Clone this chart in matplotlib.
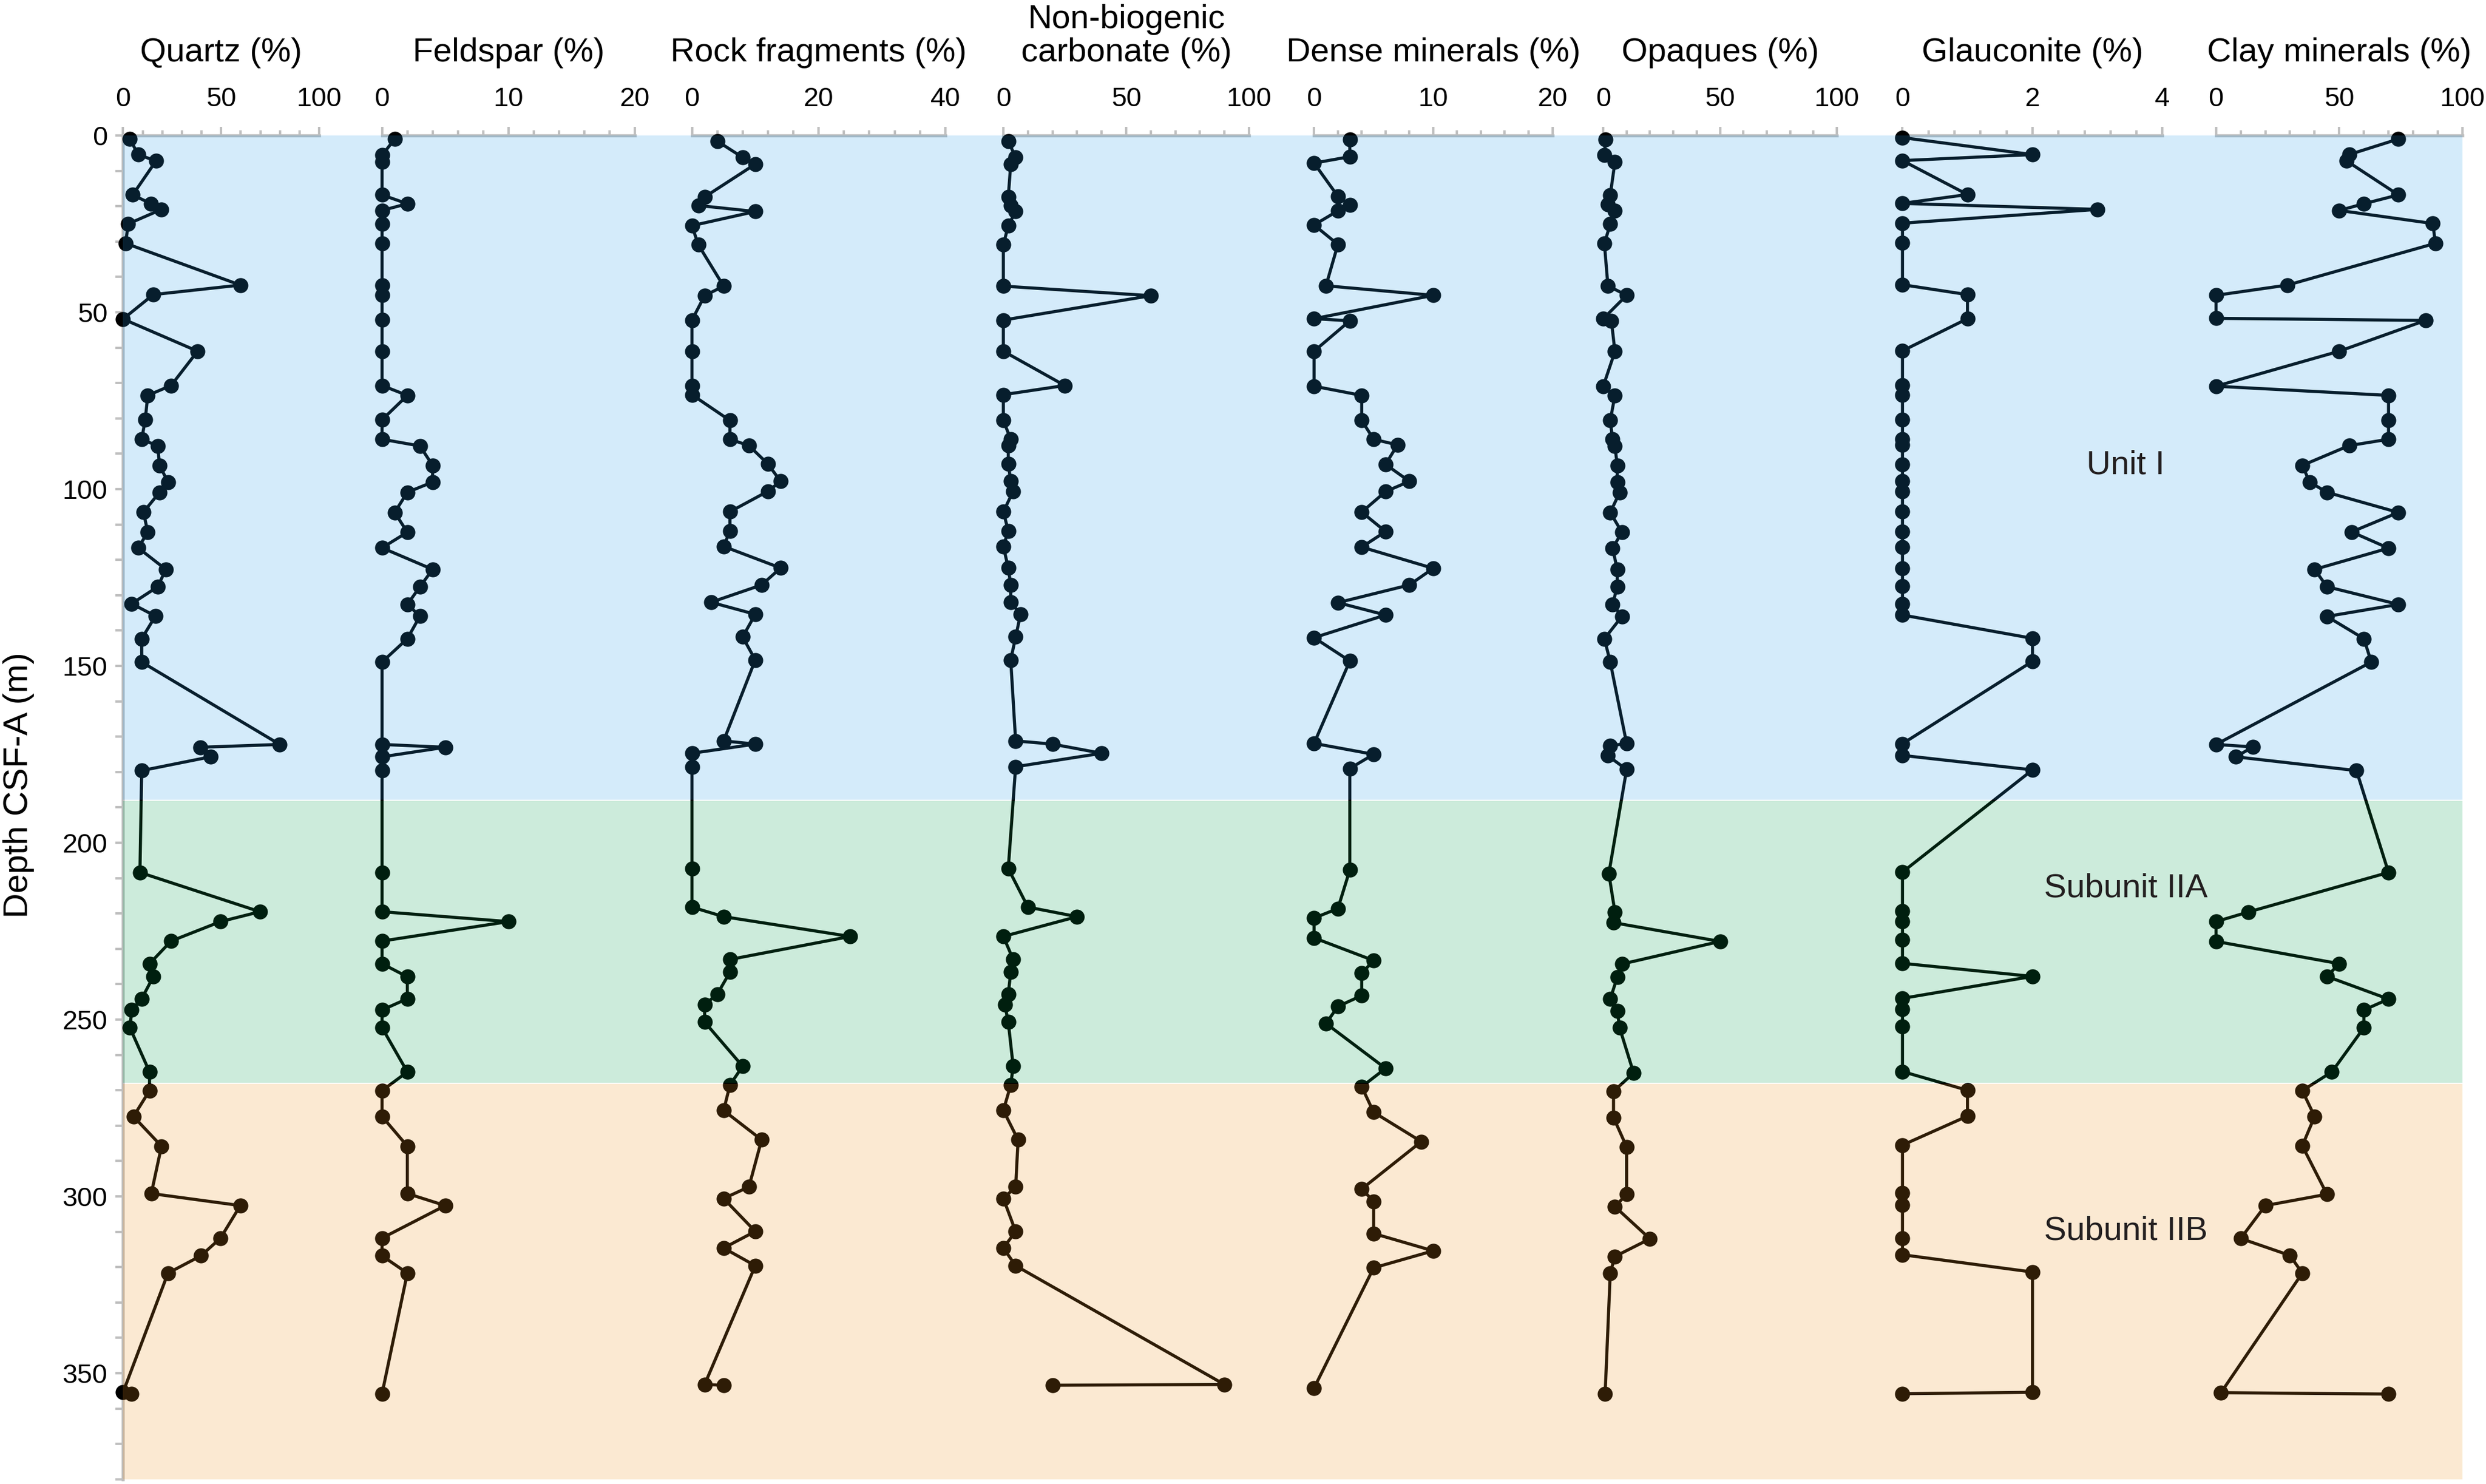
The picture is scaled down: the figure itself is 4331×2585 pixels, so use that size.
import numpy as np
import matplotlib
matplotlib.use("Agg")
import matplotlib.pyplot as plt
from matplotlib.ticker import MultipleLocator

plt.rcParams['font.family'] = ['Liberation Sans', 'DejaVu Sans']

# ---- data ----
quartz_depth = [1.0, 5.4, 7.2, 16.8, 19.3, 20.9, 25.0, 30.5, 42.3, 45.0, 51.9, 61.0, 70.7, 73.5,
                80.4, 85.9, 87.8, 93.3, 98.0, 100.9, 106.5, 112.2, 116.6, 122.7, 127.6, 132.4,
                135.9, 142.3, 148.9, 172.2, 173.0, 175.7, 179.6, 208.4, 219.5, 222.3, 227.8,
                234.2, 237.9, 244.1, 247.3, 252.3, 264.8, 270.1, 277.4, 285.8, 299.2, 302.6,
                311.8, 316.8, 321.7, 355.4, 355.8]
quartz = [3.5, 7.7, 16.8, 4.9, 14.3, 19.6, 2.6, 1.3, 59.8, 15.4, 0, 38.0, 24.5, 12.6, 11.3, 9.5,
          17.7, 18.6, 22.9, 18.6, 10.4, 12.6, 7.7, 21.8, 17.7, 4.4, 16.5, 9.5, 9.5, 79.9, 39.3,
          44.6, 9.5, 8.6, 69.8, 49.7, 24.5, 13.5, 15.4, 9.5, 4.4, 3.5, 13.5, 13.5, 5.3, 19.6,
          14.4, 59.8, 49.7, 39.7, 22.9, 0, 4.4]

feldspar_depth = [1.0, 5.6, 7.5, 16.8, 19.3, 21.2, 25.0, 30.5, 42.3, 45.2, 52.1, 61.0, 70.7, 73.5,
                  80.4, 85.9, 87.8, 93.3, 98.0, 100.9, 106.6, 112.2, 116.6, 122.7, 127.6, 132.6,
                  135.9, 142.3, 148.9, 172.2, 173.0, 175.7, 179.6, 208.4, 219.5, 222.3, 227.8,
                  234.2, 237.9, 244.1, 247.3, 252.3, 264.8, 270.1, 277.4, 285.8, 299.2, 302.6,
                  311.8, 316.8, 321.7, 355.8]
feldspar = [1, 0, 0, 0, 2, 0, 0, 0, 0, 0, 0, 0, 0, 2, 0, 0, 3, 4, 4, 2, 1, 2, 0, 4, 3, 2, 3, 2,
            0, 0, 5, 0, 0, 0, 0, 10, 0, 0, 2, 2, 0, 0, 2, 0, 0, 2, 2, 5, 0, 0, 2, 0]

rock_depth = [1.6, 6.2, 8.1, 17.4, 19.8, 21.5, 25.5, 30.9, 42.6, 45.3, 52.2, 61.0, 70.7, 73.3,
              80.6, 85.9, 87.7, 92.9, 97.8, 100.6, 106.4, 111.8, 116.2, 122.3, 127.1, 132.0,
              135.4, 141.8, 148.3, 171.2, 172.1, 174.7, 178.5, 207.3, 218.2, 220.9, 226.5,
              233.0, 236.6, 242.8, 245.8, 250.7, 263.2, 268.5, 275.7, 284.0, 297.3, 300.6,
              309.9, 314.6, 319.6, 353.2, 353.4]
rock = [4, 8, 10, 2, 1, 10, 0, 1, 5, 2, 0, 0, 0, 0, 6, 6, 9, 12, 14, 12, 6, 6, 5, 14, 11, 3, 10,
        8, 10, 5, 10, 0, 0, 0, 0, 5, 25, 6, 6, 4, 2, 2, 8, 6, 5, 11, 9, 5, 10, 5, 10, 2, 5]

carb_depth = rock_depth
carbonate = [2, 5, 3, 2, 3, 5, 2, 0, 0, 60, 0, 0, 25, 0, 0, 3, 2, 2, 3, 4, 0, 2, 0, 2, 3, 3, 7,
             5, 3, 5, 20, 40, 5, 2, 10, 30, 0, 4, 3, 2, 0.6, 2, 4, 3, 0, 6, 5, 0, 5, 0, 5, 90, 20]

dense_depth = [1.2, 6.0, 7.8, 17.2, 19.7, 21.3, 25.3, 30.8, 42.5, 45.2, 51.8, 52.4, 61.0, 70.9,
               73.5, 80.6, 85.9, 87.5, 93.0, 97.8, 100.7, 106.5, 112.0, 116.4, 122.4, 127.1,
               132.1, 135.6, 142.0, 148.6, 171.9, 175.0, 179.0, 207.7, 218.6, 221.3, 226.9,
               233.3, 236.9, 243.2, 246.3, 251.1, 263.8, 269.0, 276.2, 284.5, 297.9, 301.4,
               310.5, 315.4, 320.2, 354.2]
dense = [3, 3, 0, 2, 3, 2, 0, 2, 1, 10, 0, 3, 0, 0, 4, 4, 5, 7, 6, 8, 6, 4, 6, 4, 10, 8, 2, 6,
         0, 3, 0, 5, 3, 3, 2, 0, 0, 5, 4, 4, 2, 1, 6, 4, 5, 9, 4, 5, 5, 10, 5, 0]

opaq_depth = [1.2, 5.6, 7.5, 16.9, 19.4, 21.3, 25.0, 30.6, 42.5, 45.2, 51.8, 52.4, 61.1, 70.9,
              73.5, 80.6, 85.9, 87.8, 93.3, 98.0, 101.0, 106.6, 112.2, 116.7, 122.7, 127.6,
              132.6, 136.0, 142.3, 148.9, 171.9, 172.6, 175.4, 179.3, 208.7, 219.6, 222.6,
              227.9, 234.3, 238.0, 244.2, 247.5, 252.3, 265.1, 270.3, 277.7, 286.0, 299.4,
              302.9, 312.0, 317.0, 321.7, 355.9]
opaques = [1, 0.5, 5, 3, 2, 5, 3, 0.5, 2, 10, 0, 3.5, 5, 0, 5, 3, 4, 5, 6, 6, 7, 3, 8, 4, 6, 6,
           4, 8, 0.5, 3, 10, 3, 2, 10, 2.4, 5, 4.4, 50, 8, 6, 3, 6, 7, 13, 4.4, 4.4, 10, 10, 5,
           20, 5, 3, 0.8]

glauc_depth = [0.6, 5.4, 7.1, 16.7, 19.2, 20.9, 24.8, 30.3, 42.2, 45.0, 51.8, 60.9, 70.6, 73.4,
               80.3, 85.8, 87.5, 93.0, 97.8, 100.6, 106.4, 112.0, 116.4, 122.4, 127.4, 132.4,
               135.6, 142.2, 148.7, 172.0, 175.3, 179.4, 208.3, 219.3, 222.2, 227.5, 234.1,
               237.8, 244.0, 247.1, 251.9, 264.7, 270.0, 277.3, 285.5, 299.1, 302.5, 311.8,
               316.5, 321.4, 355.4, 355.8]
glauconite = [0, 2, 0, 1, 0, 3, 0, 0, 0, 1, 1, 0, 0, 0, 0, 0, 0, 0, 0, 0, 0, 0, 0, 0, 0, 0, 0,
              2, 2, 0, 0, 2, 0, 0, 0, 0, 0, 2, 0, 0, 0, 0, 1, 1, 0, 0, 0, 0, 0, 2, 2, 0]

clay_depth = [1.0, 5.4, 7.2, 16.8, 19.3, 21.2, 24.9, 30.5, 42.3, 45.2, 51.7, 52.3, 61.0, 70.9,
              73.5, 80.6, 85.9, 87.7, 93.3, 98.0, 100.9, 106.6, 112.1, 116.7, 122.7, 127.6,
              132.6, 136.0, 142.3, 148.9, 172.2, 172.9, 175.7, 179.6, 208.4, 219.6, 222.3,
              227.9, 234.2, 237.8, 244.2, 247.3, 252.3, 264.8, 270.1, 277.4, 285.7, 299.4,
              302.6, 311.9, 316.7, 321.7, 355.5, 355.9]
clay = [74, 54, 53, 74, 60, 50, 88, 89, 29, 0, 0, 85, 50, 0, 70, 70, 70, 54, 35, 38, 45, 74, 55,
        70, 40, 45, 74, 45, 60, 63, 0, 15, 8, 57, 70, 13, 0, 0, 50, 45, 70, 60, 60, 47, 35, 40,
        35, 45, 20, 10, 30, 35, 2, 70]

titles = ['Quartz (%)', 'Feldspar (%)', 'Rock fragments (%)', 'Non-biogenic\ncarbonate (%)',
          'Dense minerals (%)', 'Opaques (%)', 'Glauconite (%)', 'Clay minerals (%)']
x_max = [100, 20, 40, 100, 20, 100, 4, 100]
x_major = [50, 10, 20, 50, 10, 50, 2, 50]

units = ['Unit I', 'Subunit IIA', 'Subunit IIB']
unit_depth = [93.2, 212.9, 309.9]
unit_bounds = [(0, 187.9), (188.2, 267.9), (268.2, 380)]
unit_colors = ['#289be6', '#009e4d', '#eb9120']

series = [(quartz, quartz_depth), (feldspar, feldspar_depth), (rock, rock_depth),
          (carbonate, carb_depth), (dense, dense_depth), (opaques, opaq_depth),
          (glauconite, glauc_depth), (clay, clay_depth)]

# ---- layout (pixel positions of each panel) ----
W, H = 4331, 2585
panel_x = [(214.4, 556.0), (665.6, 1106.0), (1205.5, 1646.8), (1748.0, 2176.0),
           (2289.3, 2704.5), (2793.1, 3200.0), (3314.4, 3767.4), (3860.7, 4290.0)]
y_top, px_per_m, depth_max = 236.0, 6.16, 380
bottom = 1 - (y_top + depth_max * px_per_m) / H
height = depth_max * px_per_m / H

grey = '#bfbfbf'
fig = plt.figure(figsize=(W / 300, H / 300), dpi=300)

for i, (vals, dep) in enumerate(series):
    x0, x1 = panel_x[i]
    ax = fig.add_axes([x0 / W, bottom, (x1 - x0) / W, height])
    ax.patch.set_alpha(0)
    ax.plot(vals, dep, '-o', color='black', lw=1.3, ms=5.3, clip_on=False, zorder=3)
    ax.set_xlim(0, x_max[i])
    ax.set_ylim(depth_max, 0)
    ax.xaxis.tick_top()
    ax.xaxis.set_major_locator(MultipleLocator(x_major[i]))
    ax.xaxis.set_minor_locator(MultipleLocator(x_max[i] / 10))
    ax.tick_params(axis='x', which='major', length=3.5, width=1, color=grey,
                   labelsize=11.3, pad=6.3)
    ax.tick_params(axis='x', which='minor', length=2.2, width=1, color=grey)
    for s in ['bottom', 'right', 'left']:
        ax.spines[s].set_visible(False)
    ax.spines['top'].set_color(grey)
    ax.spines['top'].set_linewidth(1.3)
    ax.annotate(titles[i], xy=(0.5, 1), xycoords='axes fraction', xytext=(0, 28),
                textcoords='offset points', ha='center', va='bottom', fontsize=14,
                linespacing=1.1)
    if i == 0:
        ax.spines['left'].set_visible(True)
        ax.spines['left'].set_color(grey)
        ax.spines['left'].set_linewidth(1.3)
        ax.yaxis.set_major_locator(MultipleLocator(50))
        ax.yaxis.set_minor_locator(MultipleLocator(10))
        ax.tick_params(axis='y', which='both', length=3.1, width=1, color=grey,
                       labelsize=11.3, pad=3.4)
    else:
        ax.set_yticks([])

# coloured unit bands drawn over the data
bg = fig.add_axes([214.4 / W, bottom, (4290 - 214.4) / W, height], zorder=10)
bg.patch.set_alpha(0)
bg.set_xlim(0, 1)
bg.set_ylim(depth_max, 0)
bg.axis('off')
for (d0, d1), c in zip(unit_bounds, unit_colors):
    bg.axhspan(d0, d1, color=c, alpha=0.2, lw=0)
for name, d in zip(units, unit_depth):
    bg.text(0.856, d, name, ha='center', va='center', fontsize=14, color='#231f20')

fig.text(33 / W, 0.471, 'Depth CSF-A (m)', rotation=90, ha='center', va='center', fontsize=14.5)

fig.savefig('out.png', dpi=300)
